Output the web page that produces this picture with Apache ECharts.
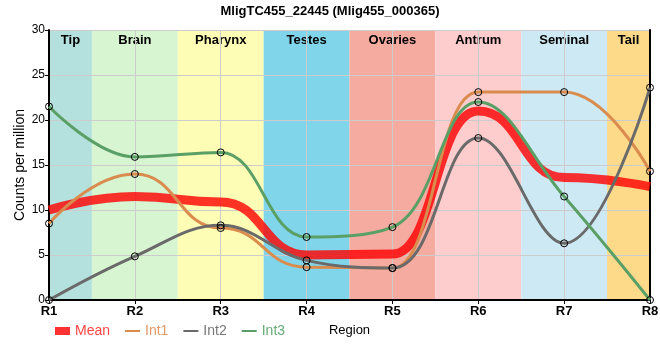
<!DOCTYPE html>
<html><head><meta charset="utf-8">
<script src="https://cdn.jsdelivr.net/npm/echarts@6/dist/echarts.min.js"></script>
<style>html,body{margin:0;padding:0;background:#fff}#c{width:660px;height:360px}</style>
</head><body><div id="c"></div>
<script>
var categories = ['R1','R2','R3','R4','R5','R6','R7','R8'];
var meanVals = [10.0, 11.5, 10.9, 5.0, 5.1, 21.0, 13.6, 12.6];
var int1Vals = [8.5, 14.0, 8.0, 3.65, 3.55, 23.1, 23.1, 14.3];
var int2Vals = [0, 4.85, 8.3, 4.4, 3.55, 18.0, 6.3, 23.6];
var int3Vals = [21.5, 15.9, 16.4, 7.0, 8.1, 22.0, 11.5, 0];
var regionNames = ['Tip','Brain','Pharynx','Testes','Ovaries','Antrum','Seminal','Tail'];
var regionStart = [1, 1.5, 2.5, 3.5, 4.5, 5.5, 6.5, 7.5];
var regionEnd   = [1.5, 2.5, 3.5, 4.5, 5.5, 6.5, 7.5, 8];
var regionColors = ['#b4e1dd','#d6f5d0','#fefdb6','#80d5eb','#f5ab9f','#fdcccc','#cdeaf4','#fdd98a'];

function pts(arr){ return arr.map(function(v,i){ return [i+1, v]; }); }

var chart = echarts.init(document.getElementById('c'), null, {renderer:'canvas'});
var font = 'Liberation Sans, Arial, sans-serif';
var areas = regionNames.map(function(n,i){
  return [{xAxis: regionStart[i], name: n, itemStyle:{color: regionColors[i]}}, {xAxis: regionEnd[i]}];
});
var markerStyle = {color:'rgba(0,0,0,0)', borderColor:'#000', borderWidth:1};
function lineSeries(name, vals, color, mono, sm){
  return {name:name, type:'line', data:pts(vals), smooth:sm, smoothMonotone:mono, z:3,
    symbol:'circle', symbolSize:7, showSymbol:true,
    lineStyle:{color:color, width:3}, itemStyle:markerStyle, color:color, emphasis:{disabled:true}};
}
chart.setOption({
  animation:false,
  textStyle:{fontFamily:font},
  title:{text:'MligTC455_22445 (Mlig455_000365)', left:'center', top:0,
    textStyle:{fontFamily:font, fontSize:13, fontWeight:'bold', color:'#000'}},
  grid:{left:49, right:10, top:30, bottom:60, outerBoundsMode:'none', containLabel:false},
  legend:{left:50, top:319, itemWidth:15, itemHeight:8, itemGap:14,
    itemStyle:{color:'rgba(0,0,0,0)', borderWidth:0},
    textStyle:{fontFamily:font, fontSize:14},
    data:[
      {name:'Mean', icon:'rect', itemStyle:{color:'#ff3333', borderWidth:0}, textStyle:{color:'#ff4545'}},
      {name:'Int1', textStyle:{color:'#e09a66'}},
      {name:'Int2', textStyle:{color:'#777777'}},
      {name:'Int3', textStyle:{color:'#66aa77'}}
    ]},
  xAxis:[{type:'value', min:1, max:8, interval:1, z:1,
    name:'Region', nameLocation:'middle', nameGap:24, nameMoveOverlap:false,
    nameTextStyle:{fontFamily:font, fontSize:13, color:'#000'},
    axisLine:{lineStyle:{color:'#000', width:2}},
    axisTick:{show:true, length:4, lineStyle:{color:'#000'}},
    axisLabel:{formatter:function(v){return categories[v-1];}, color:'#000', fontSize:13, fontWeight:'bold', margin:5, fontFamily:font},
    splitLine:{show:true, lineStyle:{color:'#cccccc', width:1}}},
   {type:'value', min:1, max:8, position:'top', z:1,
    axisLine:{show:true, lineStyle:{color:'#000', width:1}}, axisTick:{show:false}, axisLabel:{show:false}, splitLine:{show:false}}],
  yAxis:[{type:'value', min:0, max:30, interval:5, z:1,
    name:'Counts per million', nameLocation:'middle', nameGap:22, nameMoveOverlap:false,
    nameTextStyle:{fontFamily:font, fontSize:14, color:'#000'},
    axisLine:{show:true, lineStyle:{color:'#000', width:2}},
    axisTick:{show:true, length:4, lineStyle:{color:'#000'}},
    axisLabel:{color:'#000', fontSize:12, margin:4, fontFamily:font},
    splitLine:{show:true, lineStyle:{color:'#cccccc', width:1}}},
   {type:'value', min:0, max:30, position:'right', z:1,
    axisLine:{show:true, lineStyle:{color:'#000', width:2}}, axisTick:{show:false}, axisLabel:{show:false}, splitLine:{show:false}}],
  series:[
    {name:'bg', type:'line', data:[], z:0, silent:true,
      markArea:{silent:true, z:0, label:{show:true, position:'insideTop', distance:4, color:'#000', fontWeight:'bold', fontSize:13, fontFamily:font},
        data:areas}},
    {name:'Mean', type:'line', data:pts(meanVals), smooth:0.5, smoothMonotone:'x', z:2,
      symbol:'none', lineStyle:{color:'rgba(255,0,0,0.8)', width:9}, color:'rgba(255,30,30,0.9)', emphasis:{disabled:true}},
    lineSeries('Int1', int1Vals, '#d98c4e', 'x', 0.5),
    lineSeries('Int2', int2Vals, '#6a6a6a', null, 0.4),
    lineSeries('Int3', int3Vals, '#5aa066', null, 0.4)
  ]
});
</script></body></html>
